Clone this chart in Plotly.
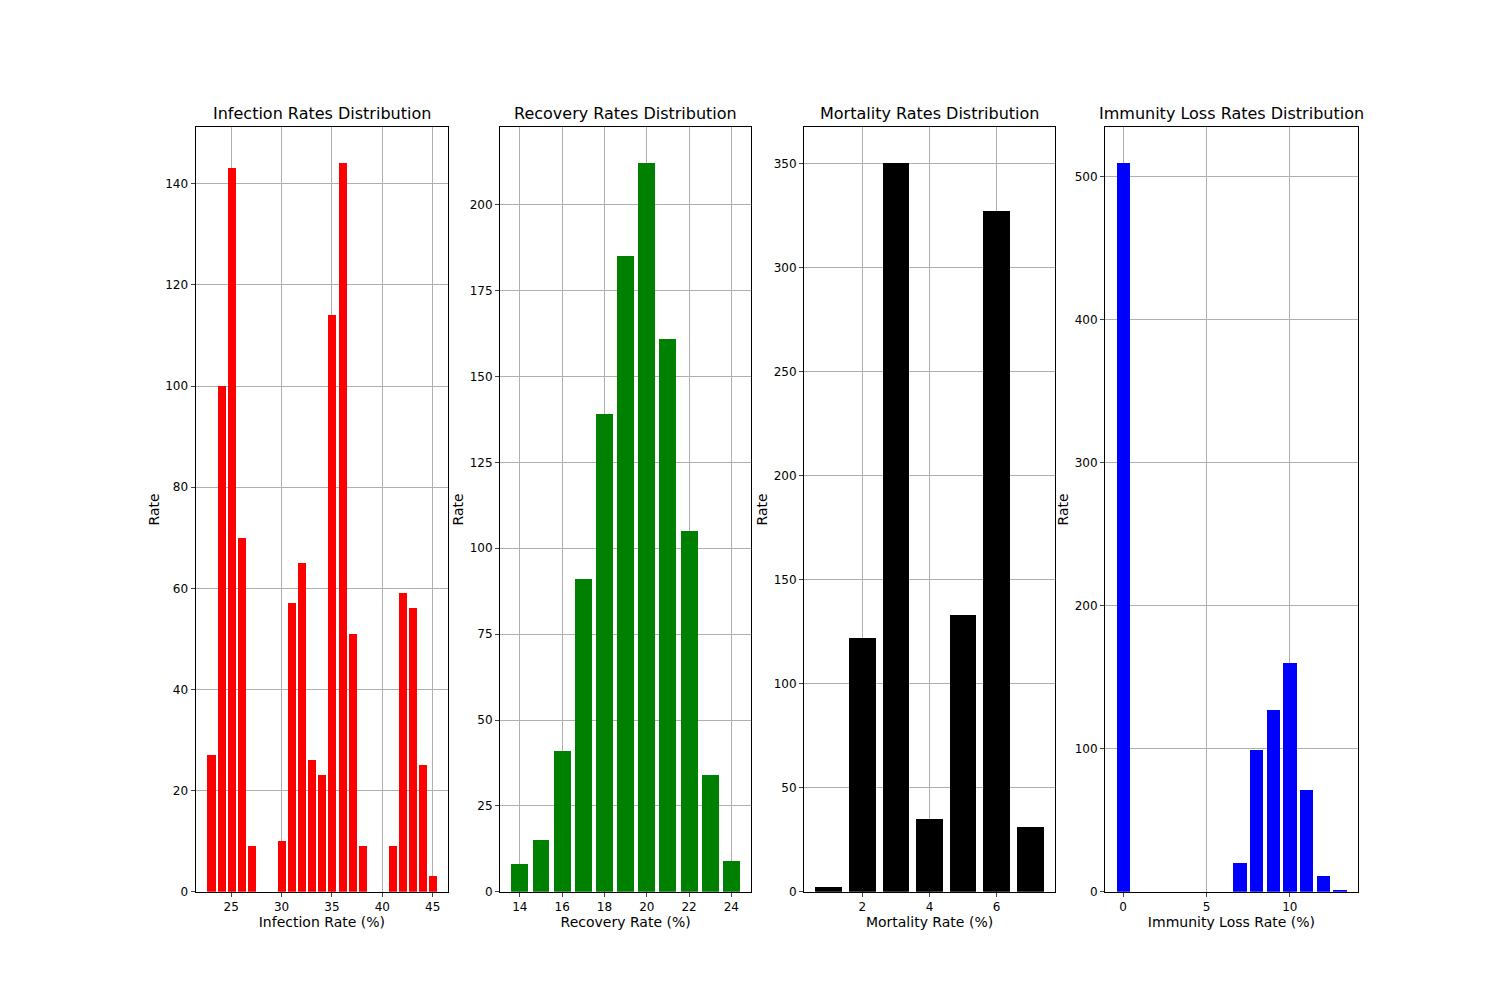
import plotly.graph_objects as go

inf_x = list(range(23, 46))
inf_y = [27,100,143,70,9,0,0,10,57,65,26,23,114,144,51,9,0,0,9,59,56,25,3]
rec_x = list(range(14, 25))
rec_y = [8,15,41,91,139,185,212,161,105,34,9]
mor_x = list(range(1, 8))
mor_y = [2,122,350,35,133,327,31]
imm_x = list(range(0, 14))
imm_y = [509,0,0,0,0,0,0,20,99,127,160,71,11,1]

panels = [
    (inf_x, inf_y, "red", "Infection Rates Distribution", "Infection Rate (%)", [21.46, 46.54], [0, 151.2], [25,30,35,40,45], [0,20,40,60,80,100,120,140]),
    (rec_x, rec_y, "green", "Recovery Rates Distribution", "Recovery Rate (%)", [13.06, 24.94], [0, 222.6], [14,16,18,20,22,24], [0,25,50,75,100,125,150,175,200]),
    (mor_x, mor_y, "black", "Mortality Rates Distribution", "Mortality Rate (%)", [0.26, 7.74], [0, 367.5], [2,4,6], [0,50,100,150,200,250,300,350]),
    (imm_x, imm_y, "blue", "Immunity Loss Rates Distribution", "Immunity Loss Rate (%)", [-1.09, 14.09], [0, 534.45], [0,5,10], [0,100,200,300,400,500]),
]
doms = [(0.125, 0.2935), (0.328, 0.4955), (0.5307, 0.698), (0.7313, 0.9)]

fig = go.Figure()
ann = []
for i, (x, y, c, t, xl, xr, yr, xt, yt) in enumerate(panels):
    n = "" if i == 0 else str(i + 1)
    fig.add_trace(go.Bar(x=x, y=y, marker_color=c, width=0.8, marker_line_width=0,
                         xaxis="x" + n, yaxis="y" + n, showlegend=False))
    ax = dict(domain=list(doms[i]), range=xr, tickvals=xt, showgrid=True, gridcolor="#b0b0b0",
              ticks="outside", ticklen=4, showline=True, mirror=True, linecolor="black",
              zeroline=False, title=dict(text=xl, standoff=4), anchor="y" + n)
    ay = dict(domain=[0.11, 0.88], range=yr, tickvals=yt, showgrid=True, gridcolor="#b0b0b0",
              ticks="outside", ticklen=4, showline=True, mirror=True, linecolor="black",
              zeroline=False, title=dict(text="Rate", standoff=2), anchor="x" + n)
    fig.update_layout(**{"xaxis" + n: ax, "yaxis" + n: ay})
    ann.append(dict(text=t, x=sum(doms[i]) / 2, y=0.882, xref="paper", yref="paper",
                    xanchor="center", yanchor="bottom", showarrow=False, font=dict(size=16, color="black")))

fig.update_layout(width=1500, height=1000, margin=dict(l=0, r=0, t=0, b=0),
                  plot_bgcolor="white", paper_bgcolor="white", annotations=ann, bargap=0,
                  font=dict(family="DejaVu Sans", size=12, color="black"))
fig.write_html("out.html")
